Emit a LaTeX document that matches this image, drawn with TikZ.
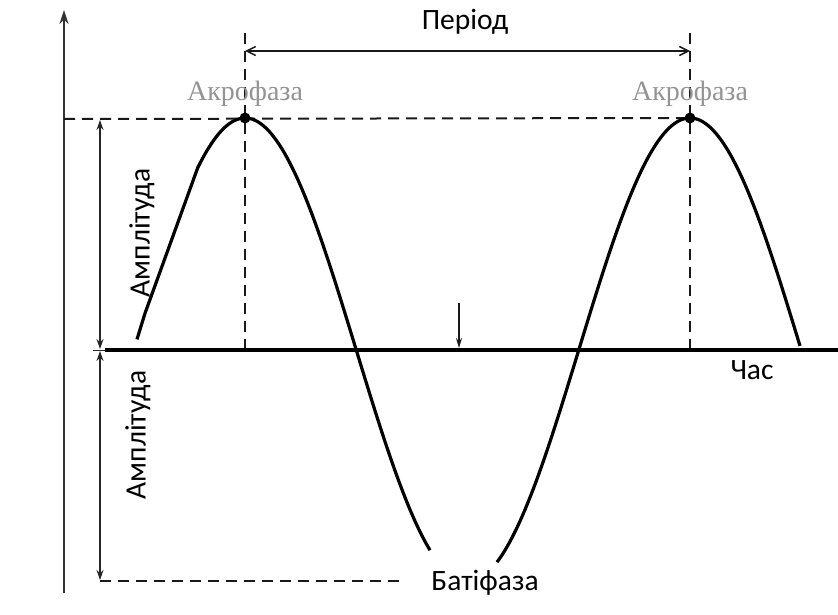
\documentclass[tikz,border=0pt]{standalone}
\usepackage{fontspec}
\setmainfont{Carlito}
\newfontfamily\serifgrey{Liberation Serif}
\usetikzlibrary{arrows.meta}
\tikzset{
  axisline/.style={line width=2pt, gray!40!black},
  ampline/.style={line width=1.6pt, gray!30!black, {Stealth[length=10pt,width=7pt]}-{Stealth[length=10pt,width=7pt]}},
  guide/.style={line width=2pt, dash pattern=on 11pt off 7pt, gray!20!black},
  wave/.style={line width=3.2pt, black, line join=round},
  lbl/.style={font=\fontsize{29.5}{32}\selectfont, inner sep=0pt},
  acro/.style={font=\serifgrey\fontsize{28}{30}\selectfont, text=gray!85, inner sep=0pt},
}
\begin{document}
\begin{tikzpicture}[x=1pt,y=-1pt]
\useasboundingbox (0,0) rectangle (838,615);
% coordinates
\coordinate (yb) at (64,593);
\coordinate (yt) at (64,10);
\coordinate (x0) at (105,350);
\coordinate (x1) at (838,350);
\coordinate (t0) at (93,350);
\coordinate (ampTop) at (100,120);
\coordinate (ampMid) at (100,349);
\coordinate (ampMid2) at (100,351);
\coordinate (ampBot) at (100,580);
\coordinate (p1) at (245,118);
\coordinate (p2) at (690,118);
\coordinate (p1top) at (245,33);
\coordinate (p2top) at (690,33);
\coordinate (p1bot) at (245,350);
\coordinate (p2bot) at (690,350);
\coordinate (hl) at (64,119);
\coordinate (bl) at (100,581);
\coordinate (br) at (405,581);
\coordinate (per1) at (245,51);
\coordinate (per2) at (690,51);
\coordinate (da) at (459,303);
\coordinate (db) at (459,348);
\coordinate (s0) at (145,313);
\coordinate (s1) at (198,167);

% vertical axis
\draw[axisline, -{Stealth[length=14pt,width=9pt]}] (yb) -- (yt);
% guides
\draw[guide] (hl) -- (p2);
\draw[guide] (bl) -- (br);
\draw[guide] (p1top) -- (p1bot);
\draw[guide] (p2top) -- (p2bot);
% amplitude arrows
\draw[ampline] (ampMid) -- (ampTop);
\draw[ampline] (ampMid2) -- (ampBot);
% horizontal axis
\draw[line width=1pt, gray!30!black] (t0) -- (x0);
\draw[line width=3.4pt] (x0) -- (x1);
% wave
\draw[wave] plot[domain=137:145, samples=8] (\x, {350-232*cos((\x-245)/445*360)})
  -- (s1) -- plot[domain=198:430, samples=150] (\x, {350-232*cos((\x-245)/445*360)});
\draw[wave] plot[domain=497:800, samples=180] (\x, {350-232*cos((\x-245)/445*360)});
% peaks
\fill (p1) circle (5.5pt);
\fill (p2) circle (5.5pt);
% period arrow
\draw[line width=1.5pt, gray!20!black, {Straight Barb[length=9pt,width=9pt]}-{Straight Barb[length=9pt,width=9pt]}] (per1) -- (per2);
% small down arrow
\draw[line width=1.4pt, gray!20!black, -{Stealth[length=10pt,width=6pt]}] (da) -- (db);
% labels
\node[lbl] (period) at (465,22) {Період};
\node[acro] (acro1) at (245,94) {Акрофаза};
\node[acro] (acro2) at (690,94) {Акрофаза};
\node[lbl] (time) at (752,370) {Час};
\node[lbl] (bati) at (485,583) {Батіфаза};
\node[lbl, rotate=90] (amp1) at (142,233) {Амплітуда};
\node[lbl, rotate=90] (amp2) at (138,435) {Амплітуда};
\end{tikzpicture}
\end{document}
